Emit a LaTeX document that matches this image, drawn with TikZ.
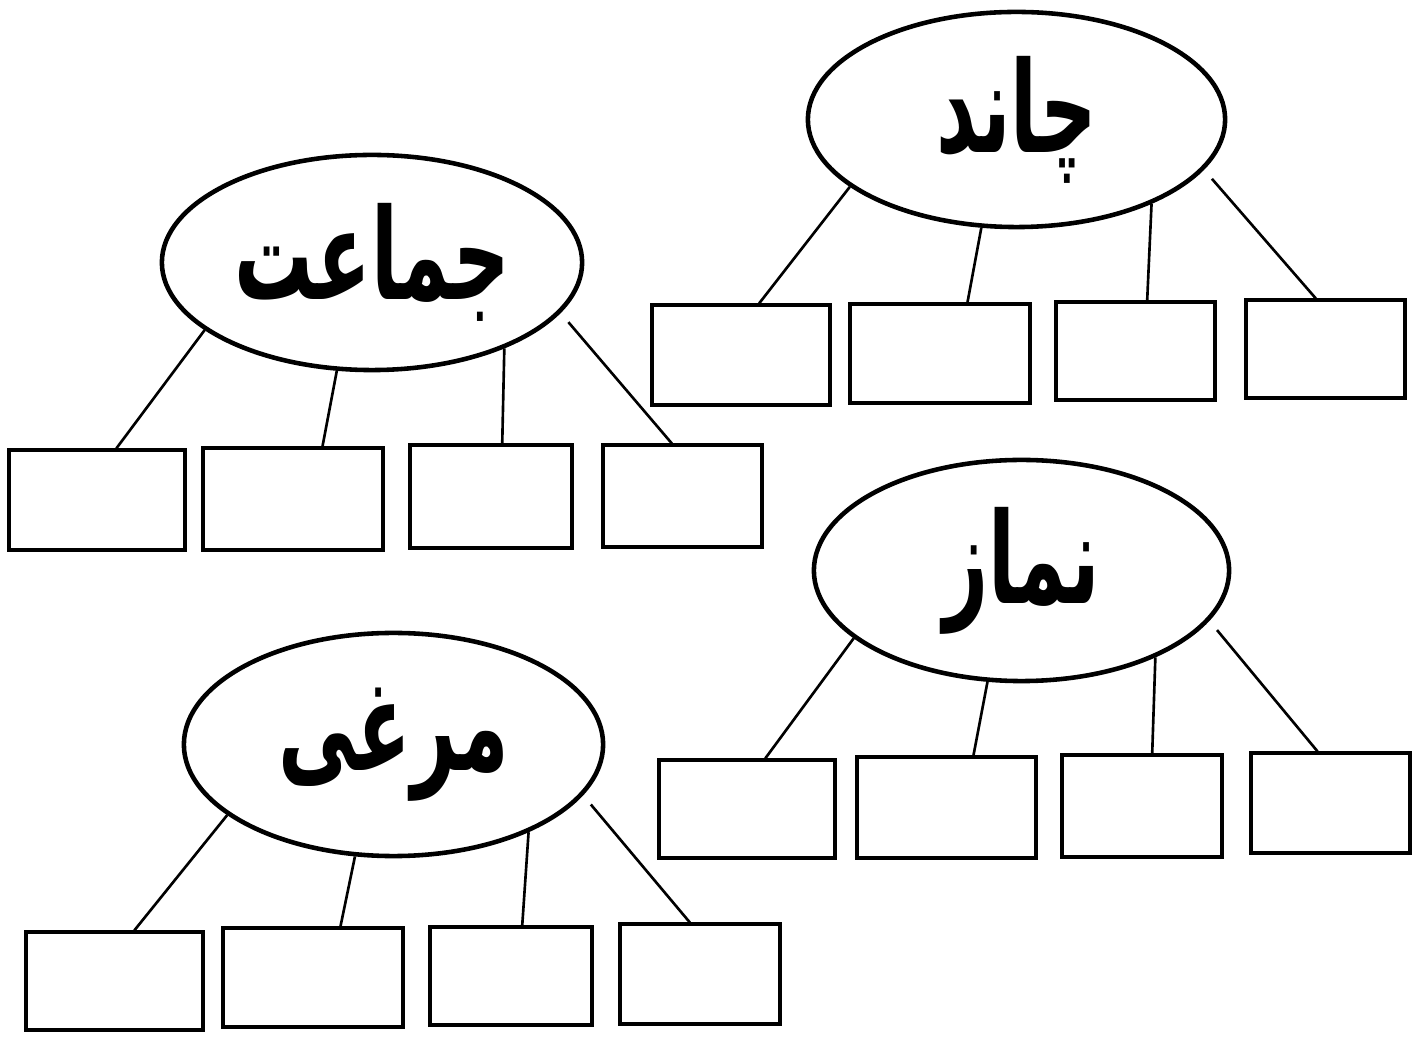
\documentclass[tikz,border=0pt]{standalone}
\usepackage{fontspec}
\usetikzlibrary{shapes.geometric,calc,fit}
\TeXXeTstate=1
\newfontfamily\urfont[Script=Arabic,FakeStretch=0.62]{DejaVu Sans}
\newcommand{\urw}[1]{\makebox[0pt]{\urfont\bfseries\fontsize{36}{42}\selectfont\beginR #1\endR}}
\begin{document}
\begin{tikzpicture}[x=0.01cm,y=-0.01cm,
  ell/.style={draw,ellipse,line width=1.3pt,inner sep=0pt},
  box/.style={draw,rectangle,line width=0.9pt,inner sep=0pt},
  conn/.style={line width=0.75pt},
  gapped/.style={conn,shorten <=0.12cm}]
\useasboundingbox[fill=white] (0,0) rectangle (1424,1037);
% ---------- group A
\node[ell,minimum width=4.17cm,minimum height=2.15cm] (A) at (1016.5,119.5) {\urw{چاند}};
\node[box,fit={(652,305) (830,405)}] (A1) {};
\node[box,fit={(850,304) (1030,403)}] (A2) {};
\node[box,fit={(1056,302) (1215,400)}] (A3) {};
\node[box,fit={(1246,300) (1405,398)}] (A4) {};
\draw[conn] (A.202.5) -- ($(A1.north west)!0.60!(A1.north east)$);
\draw[conn] (A.252.5) -- ($(A2.north west)!0.65!(A2.north east)$);
\draw[conn] (A.328) -- ($(A3.north west)!0.572!(A3.north east)$);
\draw[gapped] (A.345) -- ($(A4.north west)!0.44!(A4.north east)$);
% ---------- group B
\node[ell,minimum width=4.20cm,minimum height=2.15cm] (B) at (372,262.5) {\urw{جماعت}};
\node[box,fit={(9,450) (185,550)}] (B1) {};
\node[box,fit={(203,448) (383,550)}] (B2) {};
\node[box,fit={(410,445) (572,548)}] (B3) {};
\node[box,fit={(603,445) (762,547)}] (B4) {};
\draw[conn] (B.202.5) -- ($(B1.north west)!0.608!(B1.north east)$);
\draw[conn] (B.252.5) -- ($(B2.north west)!0.661!(B2.north east)$);
\draw[conn] (B.327) -- ($(B3.north west)!0.568!(B3.north east)$);
\draw[gapped] (B.345.5) -- ($(B4.north west)!0.434!(B4.north east)$);
% ---------- group C
\node[ell,minimum width=4.15cm,minimum height=2.21cm] (C) at (1021.5,570.5) {\urw{نماز}};
\node[box,fit={(659,760) (835,858)}] (C1) {};
\node[box,fit={(857,757) (1036,858)}] (C2) {};
\node[box,fit={(1062,755) (1222,857)}] (C3) {};
\node[box,fit={(1251,753) (1410,853)}] (C4) {};
\draw[conn] (C.202.7) -- ($(C1.north west)!0.602!(C1.north east)$);
\draw[conn] (C.253.5) -- ($(C2.north west)!0.648!(C2.north east)$);
\draw[conn] (C.327.7) -- ($(C3.north west)!0.5625!(C3.north east)$);
\draw[gapped] (C.345) -- ($(C4.north west)!0.42!(C4.north east)$);
% ---------- group D
\node[ell,minimum width=4.19cm,minimum height=2.23cm] (D) at (393.5,744.5) {\urw{مرغی}};
\node[box,fit={(26,932) (203,1030)}] (D1) {};
\node[box,fit={(223,928) (403,1027)}] (D2) {};
\node[box,fit={(430,927) (592,1025)}] (D3) {};
\node[box,fit={(620,924) (780,1024)}] (D4) {};
\draw[conn] (D.203) -- ($(D1.north west)!0.61!(D1.north east)$);
\draw[conn] (D.251.7) -- ($(D2.north west)!0.65!(D2.north east)$);
\draw[conn] (D.327.6) -- ($(D3.north west)!0.568!(D3.north east)$);
\draw[gapped] (D.345.2) -- ($(D4.north west)!0.4375!(D4.north east)$);
\end{tikzpicture}
\end{document}
